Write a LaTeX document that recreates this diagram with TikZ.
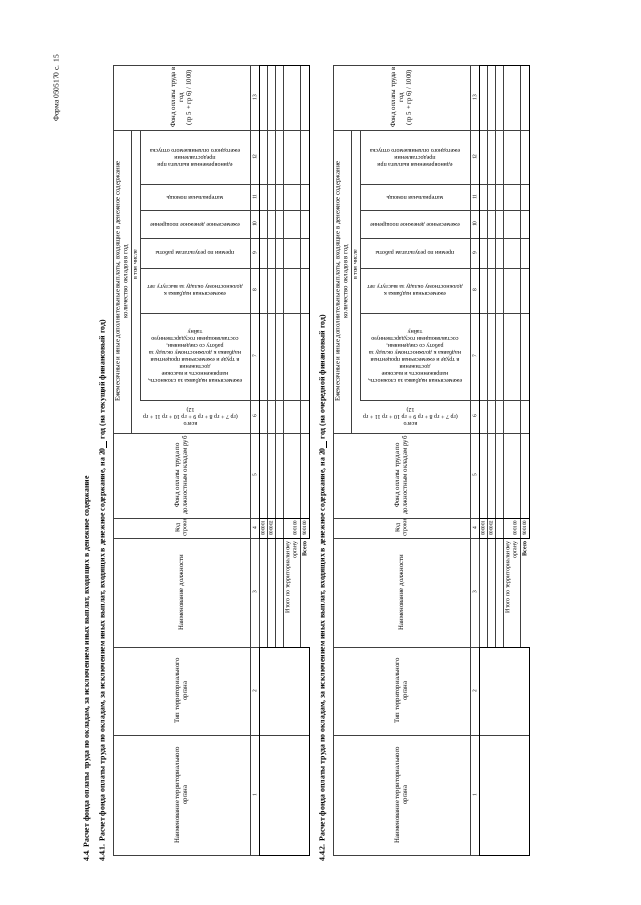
\documentclass[tikz,border=0pt]{standalone}
\usepackage{fontspec}
\setmainfont{Liberation Serif}
\begin{document}
\begin{tikzpicture}[x=1pt,y=-1pt,
  rule/.style={draw=black!75,line width=0.5pt},
  frame/.style={draw=black,line width=0.9pt},
  hd/.style={rotate=90,font=\fontsize{6.8}{7.8}\selectfont,align=center,inner sep=0pt},
  hdup/.style={rotate=180,font=\fontsize{6}{7}\selectfont,align=center,inner sep=0pt},
  num/.style={rotate=90,font=\fontsize{5.5}{6}\selectfont,inner sep=0pt},
  ttl/.style={rotate=90,anchor=west,font=\fontsize{7.8}{9}\selectfont\bfseries,inner sep=0pt}]

\fill[white] (0,0) rectangle (640,905);
\useasboundingbox (0,0) rectangle (640,905);

\node[rotate=90,anchor=east,font=\fontsize{7.5}{8}\selectfont,inner sep=0pt] (form) at (57,55) {Форма 0505170 с. 15};
\node[ttl] (t0) at (87,862) {4.4. Расчет фонда оплаты труда по окладам, за исключением иных выплат, входящих в денежное содержание};

\foreach \dx/\n/\yr in {0/1/текущий,220/2/очередной}{
\begin{scope}[xshift=\dx pt]
  \node[ttl] (t\n) at (103,862) {4.4.\n. Расчет фонда оплаты труда по окладам, за исключением иных выплат, входящих в денежное содержание, на 20\underline{\hspace{7pt}} год (на \yr{} финансовый год)};
  % outline and header rules
  \draw[rule] (113,65) -- (113,855);
  \draw[rule] (113,65) -- (309,65);
  \draw[rule] (113,855) -- (309,855);
  \draw[rule] (113,130) -- (309,130);
  \draw[rule] (131,130) -- (131,433);
  \draw[rule] (140,130) -- (140,400);
  \foreach \y in {184,210,238,268,313,400}
    \draw[rule] (140,\y) -- (309,\y);
  \foreach \y in {433,518,538,647,735}
    \draw[rule] (113,\y) -- (309,\y);
  \draw[rule] (250,65) -- (250,855);
  \draw[rule] (259,65) -- (259,855);
  \foreach \x in {267,275,283,300}
    \draw[rule] (\x,65) -- (\x,647);
  \draw[frame] (259,65) rectangle (309,538);
  \draw[frame] (259,647) rectangle (309,855);
  \draw[frame] (259,518) rectangle (309,538);
  % column heads
  \node[hd] (h\n-13) at (181.5,97.5) {Фонд оплаты труда в\\год\\(гр 5 + гр 6) / 1000)};
  \node[hd] (g\n) at (122,281.5) {Ежемесячные и иные дополнительные выплаты, входящие в денежное содержание\\количество окладов в год};
  \node[hd,font=\fontsize{6}{7}\selectfont] (v\n) at (135.5,265) {в том числе};
  \node[hdup] (h\n-12) at (195,157) {единовременная выплата при\\предоставлении\\ежегодного оплачиваемого отпуска};
  \node[hdup] (h\n-11) at (195,197) {материальная помощь};
  \node[hdup] (h\n-10) at (195,224) {ежемесячное денежное поощрение};
  \node[hdup] (h\n-9) at (195,253) {премии по результатам работы};
  \node[hdup] (h\n-8) at (195,290.5) {ежемесячная надбавка к\\должностному окладу за выслугу лет};
  \node[hdup] (h\n-7) at (195,356.5) {ежемесячная надбавка за сложность,\\напряженность и высокие\\достижения\\в труде и ежемесячная процентная\\надбавка к должностному окладу за\\работу со сведениями,\\составляющими государственную\\тайну};
  \node[hdup] (h\n-6) at (190.5,416.5) {всего\\(гр 7 + гр 8 + гр 9 + гр 10 + гр 11 + гр\\12)};
  \node[hd] (h\n-5) at (181.5,475.5) {Фонд оплаты труда по\\должностным окладам руб};
  \node[hd,font=\fontsize{6}{7}\selectfont] (h\n-4) at (181.5,528) {Код\\строки};
  \node[hd] (h\n-3) at (181.5,592.5) {Наименование должности};
  \node[hd] (h\n-2) at (181.5,691) {Тип территориального\\органа};
  \node[hd] (h\n-1) at (181.5,795) {Наименование территориального\\органа};
  % column numbers
  \foreach \a/\b/\k in {65/130/13,130/184/12,184/210/11,210/238/10,238/268/9,268/313/8,313/400/7,400/433/6,433/518/5,518/538/4,538/647/3,647/735/2,735/855/1}
    \node[num] (n\n-\k) at (254.5,{(\a+\b)/2}) {\k};
  % rows
  \node[num,font=\fontsize{5}{6}\selectfont] (c\n-1) at (263,528) {000001};
  \node[num,font=\fontsize{5}{6}\selectfont] (c\n-2) at (271,528) {000002};
  \node[num,font=\fontsize{5}{6}\selectfont] (c\n-3) at (295,528) {000100};
  \node[num,font=\fontsize{5}{6}\selectfont] (c\n-4) at (304.5,528) {900100};
  \node[hd,anchor=east,align=right,font=\fontsize{6}{7}\selectfont] (it\n) at (291.5,541) {Итого по территориальному\\органу};
  \node[hd,anchor=east,font=\fontsize{6}{7}\selectfont\bfseries] (vs\n) at (304.5,541) {Всего};
\end{scope}
}
\end{tikzpicture}
\end{document}
